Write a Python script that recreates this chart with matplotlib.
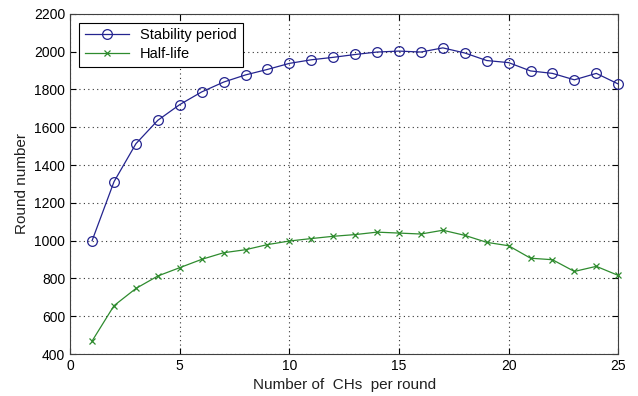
import numpy as np
import matplotlib
matplotlib.use("Agg")
import matplotlib.pyplot as plt

plt.rcParams['font.family'] = ['Liberation Sans', 'DejaVu Sans']

# Dados
n_chs = list(range(1, 26))
stability = [1000, 1312, 1513, 1637, 1720, 1787, 1839, 1877, 1906, 1938,
             1957, 1970, 1985, 1998, 2003, 1998, 2020, 1993, 1953, 1942,
             1898, 1885, 1851, 1885, 1829]
half_life = [469, 656, 747, 813, 857, 901, 936, 952, 979, 998,
             1011, 1023, 1032, 1045, 1040, 1035, 1055, 1028, 991, 973,
             907, 899, 837, 864, 816]

xticks = [0, 5, 10, 15, 20, 25]
yticks = list(range(400, 2201, 200))

fig = plt.figure(figsize=(6.38, 3.96), dpi=100)
ax = fig.add_axes([0.110, 0.106, 0.859, 0.859])

ax.plot(n_chs, stability, color='#24248f', marker='o', markersize=7,
        markerfacecolor='none', markeredgewidth=0.9, linewidth=0.9,
        label='Stability period', clip_on=False, zorder=3)
ax.plot(n_chs, half_life, color='#2e8b2e', marker='x', markersize=4,
        markeredgewidth=0.9, linewidth=0.9, label='Half-life',
        clip_on=False, zorder=3)

ax.set_xlim(0, 25)
ax.set_ylim(400, 2200)
ax.set_xticks(xticks)
ax.set_yticks(yticks)
ax.grid(True, linestyle=(0, (1, 3)), color='#333333', linewidth=0.8)
ax.tick_params(direction='in', labelsize=10, top=True, right=True, length=4)
for s in ax.spines.values():
    s.set_color('#404040')

ax.set_xlabel('Number of  CHs  per round', fontsize=11, color='#202020')
ax.set_ylabel('Round number', fontsize=11, color='#202020')

leg = ax.legend(loc='upper left', fontsize=10.5, fancybox=False,
                framealpha=1, edgecolor='black', borderaxespad=0.6,
                handlelength=3, labelspacing=0.3)
leg.get_frame().set_linewidth(0.8)
leg.set_zorder(5)

fig.savefig('out.png', dpi=100)
